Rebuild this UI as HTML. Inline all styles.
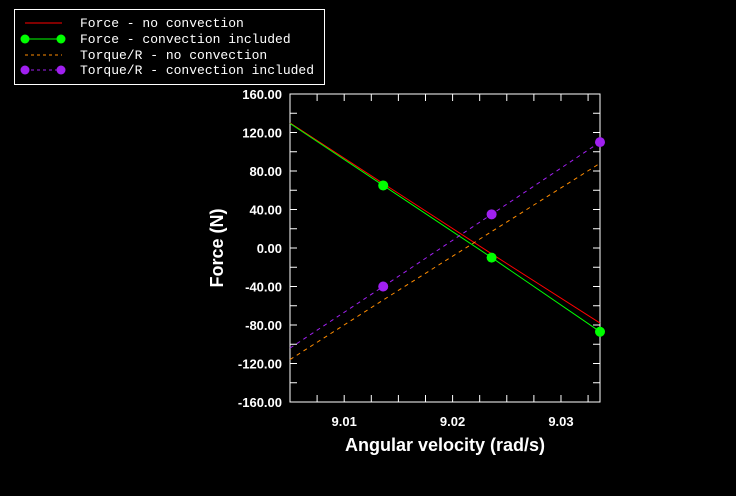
<!DOCTYPE html>
<html><head><meta charset="utf-8"><style>
html,body{margin:0;padding:0;background:#000;}
svg{display:block;}
</style></head><body>
<svg id="c" width="736" height="496" xmlns="http://www.w3.org/2000/svg">
<rect width="736" height="496" fill="#000"/>
<g id="legend">
<rect x="14.5" y="9.5" width="310" height="75" fill="none" stroke="#fff" stroke-width="1"/>
</g>
<g id="plot"></g>
</svg>
<script>
const xVals = [9.005, 9.0136, 9.0236, 9.0336];
const forceNoConv = [130, 67, -6, -78];
const forceConv = [129.5, 65, -10, -87];
const torqueNoConv = [-116, -54, 17, 88];
const torqueConv = [-104, -40, 35, 110];
const yTicks = [-160,-120,-80,-40,0,40,80,120,160];
const yTickLabels = ["-160.00","-120.00","-80.00","-40.00","0.00","40.00","80.00","120.00","160.00"];
const xTicks = [9.01, 9.02, 9.03];
const xTickLabels = ["9.01","9.02","9.03"];
const legendLabels = ["Force - no convection","Force - convection included","Torque/R - no convection","Torque/R - convection included"];

const L=290,R=600,T=94,B=402, xmin=9.005, xmax=9.0336, ymin=-160, ymax=160;
const sx=v=>L+(v-xmin)/(xmax-xmin)*(R-L);
const sy=v=>B-(v-ymin)/(ymax-ymin)*(B-T);
const NS="http://www.w3.org/2000/svg";
const plot=document.getElementById('plot');
function mk(tag,attrs,parent){const e=document.createElementNS(NS,tag);for(const k in attrs)e.setAttribute(k,attrs[k]);(parent||plot).appendChild(e);return e;}

const frame=mk('rect',{x:L,y:T,width:R-L,height:B-T,fill:'none',stroke:'#fff','stroke-width':1});



// y ticks (major + minor)
for(let v=ymin; v<=ymax; v+=20){
  const y=sy(v);
  const t1=mk('line',{x1:L,x2:L+7,y1:y,y2:y,stroke:'#fff'});
  
  
  const t2=mk('line',{x1:R-7,x2:R,y1:y,y2:y,stroke:'#fff'});
  
  
}
yTicks.forEach((v,i)=>{
  const t=mk('text',{x:282,y:sy(v)+5,'text-anchor':'end',fill:'#fff','font-family':'Liberation Sans, sans-serif','font-size':13,'font-weight':'bold'});
  t.textContent=yTickLabels[i];
  
  
});
// x ticks
for(let v=9.0075; v<xmax; v+=0.0025){
  const x=sx(v);
  const t1=mk('line',{x1:x,x2:x,y1:B,y2:B-7,stroke:'#fff'});
  
  
  const t2=mk('line',{x1:x,x2:x,y1:T,y2:T+7,stroke:'#fff'});
  
  
}
xTicks.forEach((v,i)=>{
  const t=mk('text',{x:sx(v),y:426,'text-anchor':'middle',fill:'#fff','font-family':'Liberation Sans, sans-serif','font-size':13,'font-weight':'bold'});
  t.textContent=xTickLabels[i];
  
  
});
const xt=mk('text',{x:445,y:451,'text-anchor':'middle',fill:'#fff','font-family':'Liberation Sans, sans-serif','font-size':18,'font-weight':'bold'});
xt.textContent='Angular velocity (rad/s)';


const yt=mk('text',{x:0,y:0,transform:'translate(223,248) rotate(-90)','text-anchor':'middle',fill:'#fff','font-family':'Liberation Sans, sans-serif','font-size':18,'font-weight':'bold'});
yt.textContent='Force (N)';



const series=[
 {vals:forceNoConv,color:'#ff0000',dash:null,marker:false,name:'force-no-convection'},
 {vals:forceConv,color:'#00ff00',dash:null,marker:true,name:'force-convection-included'},
 {vals:torqueNoConv,color:'#ff8c00',dash:'4,4',marker:false,name:'torque-no-convection'},
 {vals:torqueConv,color:'#a020f0',dash:'4,4',marker:true,name:'torque-convection-included'}
];
series.forEach((s,si)=>{
  const pts=xVals.map((x,i)=>sx(x).toFixed(1)+','+sy(s.vals[i]).toFixed(1)).join(' ');
  const a={points:pts,fill:'none',stroke:s.color,'stroke-width':1};
  if(s.dash)a['stroke-dasharray']=s.dash;
  const pl=mk('polyline',a);
  
  
  if(s.marker){
    for(let i=1;i<xVals.length;i++){
      const c=mk('circle',{cx:sx(xVals[i]),cy:sy(s.vals[i]),r:5,fill:s.color});
      
      
    }
  }
  // legend
  const lg=document.getElementById('legend');
  const ly=[23,39,55,70][si];
  const ll=mk('line',{x1:25,x2:62,y1:ly,y2:ly,stroke:s.color,'stroke-width':1},lg);
  if(s.dash)ll.setAttribute('stroke-dasharray','3,3');
  
  
  if(s.marker){
    [25,61].forEach(cx=>{
      const c=mk('circle',{cx:cx,cy:ly,r:4.5,fill:s.color},lg);
      
      
    });
  }
  const tx=mk('text',{x:80,y:ly+4,fill:'#fff','font-family':'Liberation Mono, monospace','font-size':13},lg);
  tx.textContent=legendLabels[si];
  
  
});
</script>
</body></html>
